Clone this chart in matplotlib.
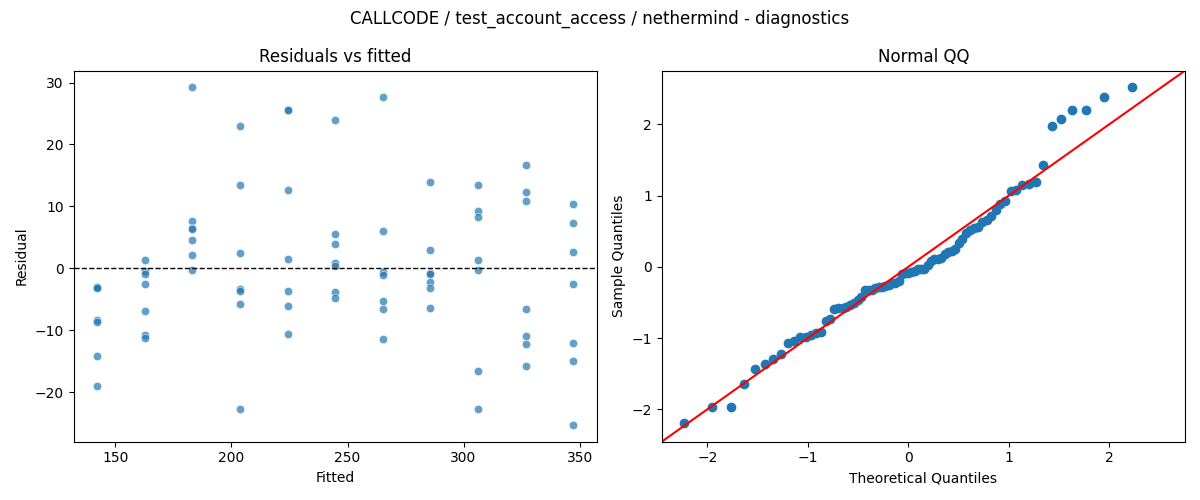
import matplotlib
matplotlib.use("Agg")
import matplotlib.pyplot as plt
import seaborn as sns
import numpy as np
from statistics import NormalDist

# fitted value levels and the residuals read at each level
fitted_levels = [142.2, 162.7, 183.2, 203.7, 224.2, 244.7, 265.2, 285.7, 306.2, 326.7, 347.2]
residuals_by_level = [
    [-3.0, -3.1, -3.2, -8.4, -8.7, -14.2, -19.0],
    [1.3, -0.4, -1.0, -2.6, -6.9, -10.8, -11.3],
    [29.2, 7.6, 6.5, 6.3, 4.5, 2.1, -0.3],
    [22.9, 13.5, 2.4, -3.4, -3.7, -5.8, -22.7],
    [25.6, 25.6, 12.6, 1.5, -3.7, -6.1, -10.6],
    [24.0, 5.6, 3.9, 0.9, 0.4, -3.8, -4.8],
    [27.6, 6.0, -0.6, -1.1, -5.3, -6.6, -11.4],
    [13.9, 2.9, -0.8, -1.0, -2.2, -3.2, -6.5],
    [13.4, 9.2, 8.3, 1.3, -0.3, -16.6, -22.8],
    [16.6, 12.3, 10.8, -6.6, -11.0, -12.3, -15.8],
    [10.3, 7.3, 2.6, -2.6, -12.0, -15.0, -25.3],
]

fitted = np.array([f for f, rs in zip(fitted_levels, residuals_by_level) for _ in rs])
resid = np.array([r for rs in residuals_by_level for r in rs])

fig, (ax1, ax2) = plt.subplots(1, 2, figsize=(12, 5))

# Residuals vs fitted
sns.scatterplot(x=fitted, y=resid, alpha=0.7, ax=ax1)
ax1.axhline(0, color="black", linestyle="--", linewidth=1)
ax1.set_title("Residuals vs fitted")
ax1.set_xlabel("Fitted")
ax1.set_ylabel("Residual")

# Normal QQ (standardized residuals, 45 degree line)
sample = np.sort((resid - resid.mean()) / resid.std())
n = len(sample)
theo = np.array([NormalDist().inv_cdf(i / (n + 1)) for i in range(1, n + 1)])
ax2.plot(theo, sample, marker="o", linestyle="none", color="C0")
lo = min(ax2.get_xlim()[0], ax2.get_ylim()[0])
hi = max(ax2.get_xlim()[1], ax2.get_ylim()[1])
ax2.plot([lo, hi], [lo, hi], color="red")
ax2.set_xlim(lo, hi)
ax2.set_ylim(lo, hi)
ax2.set_title("Normal QQ")
ax2.set_xlabel("Theoretical Quantiles")
ax2.set_ylabel("Sample Quantiles")

fig.suptitle("CALLCODE / test_account_access / nethermind - diagnostics")
plt.tight_layout()
plt.savefig("out.png", dpi=100)
